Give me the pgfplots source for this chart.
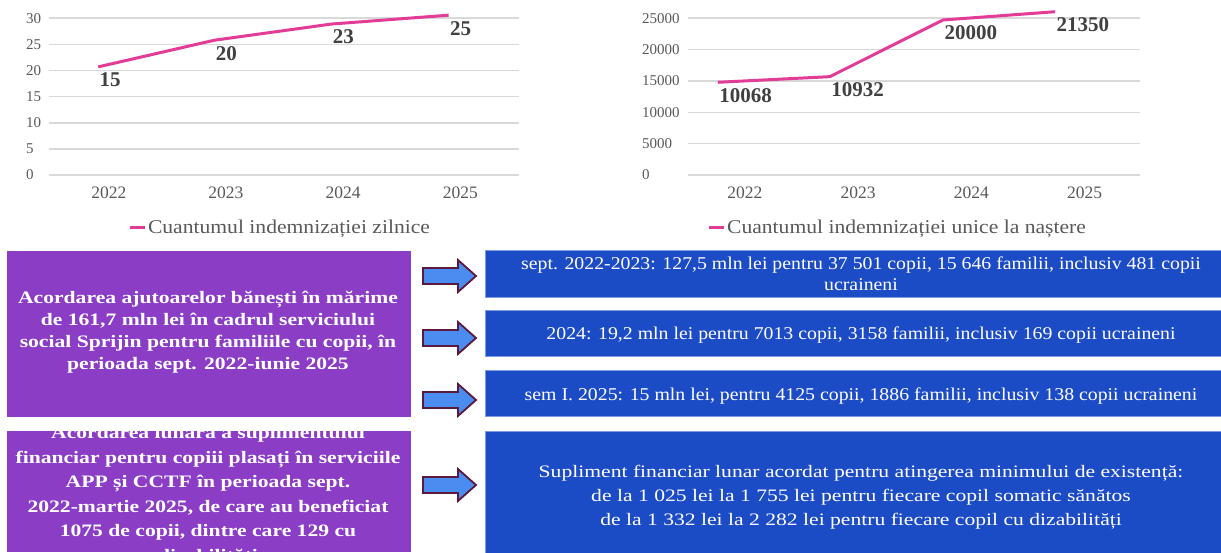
\documentclass[border=0pt]{standalone}
\usepackage{fontspec}
\setmainfont{Liberation Serif}
\usepackage{graphicx}
\usepackage{pgfplots}
\pgfplotsset{compat=1.18}
\definecolor{lpink}{HTML}{E23C96}
\definecolor{gridc}{HTML}{D9D9D9}
\definecolor{tickc}{HTML}{595959}
\definecolor{labc}{HTML}{404040}
\definecolor{purp}{HTML}{8B3DC6}
\definecolor{bbox}{HTML}{1C4BC6}
\definecolor{bedge}{HTML}{7F9BE6}
\definecolor{arrf}{HTML}{4A8CF0}
\definecolor{arre}{HTML}{5B1A3C}
\pgfplotsset{mychart/.style={
  scale only axis, anchor=south west,
  height=156.7pt,
  ymin=0, clip=false,
  scaled y ticks=false,
  axis line style={draw=none},
  tick style={draw=none},
  ymajorgrids, grid style={gridc, line width=1.6pt},
  xtick={0,1,2,3}, xticklabels={2022,2023,2024,2025},
  xticklabel style={anchor=base, yshift=-24pt, font=\fontsize{17.5}{20}\selectfont, text=tickc},
  yticklabel style={anchor=west, font=\fontsize{15}{18}\selectfont, text=tickc},
  /pgf/number format/assume math mode=true,
  legend style={draw=none, fill=none, font=\fontsize{19.5}{22}\selectfont, text=tickc, anchor=center, inner sep=0pt},
  legend image code/.code={\draw[lpink, line width=3pt] (0pt,0pt) -- (15pt,0pt);},
  nodes near coords, point meta=explicit symbolic,
  every node near coord/.append style={anchor=north west, inner sep=0pt, yshift=-4.5pt, font=\fontsize{21}{24}\bfseries\selectfont, text=labc},
}}
\newcommand{\pl}[2]{\node[anchor=base,inner sep=0pt,text=white,font=\fontsize{17.5}{21}\bfseries\selectfont] at (208,552-#1) {\scalebox{1.235}[1]{#2}};}
\newcommand{\bl}[2]{\node[anchor=base,inner sep=0pt,text=white,font=\fontsize{18}{21}\selectfont] at (861,552-#1) {\scalebox{1.1}[1]{#2}};}
\newcommand{\ql}[2]{\node[anchor=base,inner sep=0pt,text=white,font=\fontsize{17.5}{21}\selectfont] at (861,552-#1) {\scalebox{1.235}[1]{#2}};}
\newcommand{\arr}[1]{\draw[fill=arrf, draw=arre, line width=1.8pt, line join=miter] (423,552-#1-8) -- (458,552-#1-8) -- (458,552-#1-16) -- (476,552-#1) -- (458,552-#1+16) -- (458,552-#1+8) -- (423,552-#1+8) -- cycle;}
\begin{document}
\begin{tikzpicture}[x=1pt,y=1pt]
\path[use as bounding box, fill=white] (0,0) rectangle (1221,552);
% ---------- left chart
\begin{axis}[mychart, at={(49pt,377pt)}, width=470pt,
  xmin=-0.51, xmax=3.5, ymax=30,
  ytick={0,5,10,15,20,25,30}, yticklabels={0,5,10,15,20,25,30},
  yticklabel style={xshift=-26.3pt},
  legend style={at={(0.4915,-0.338)}}]
\addplot[lpink, line width=3pt] table[x=x, y=y, meta=label] {
x y label
-0.09 20.7 15
0.9 25.8 20
1.9 28.9 23
2.9 30.6 25
};
\addlegendentry{\scalebox{1.108}[1]{Cuantumul indemnizației zilnice}}
\end{axis}
% ---------- right chart
\begin{axis}[mychart, at={(688pt,377pt)}, width=452pt,
  xmin=-0.503, xmax=3.49, ymax=25000,
  ytick={0,5000,10000,15000,20000,25000}, yticklabels={0,5000,10000,15000,20000,25000},
  yticklabel style={xshift=-49.3pt},
  legend style={at={(0.4635,-0.338)}}]
\addplot[lpink, line width=3pt] table[x=x, y=y, meta=label] {
x y label
-0.24 14790 10068
0.75 15690 10932
1.75 24730 20000
2.74 26050 21350
};
\addlegendentry{\scalebox{1.108}[1]{Cuantumul indemnizației unice la naștere}}
\end{axis}
% ---------- boxes
\fill[purp] (7,135) rectangle (411,301);
\fill[purp] (7,0) rectangle (411,121);
\filldraw[fill=bbox, draw=bedge, line width=1pt] (485,254) rectangle (1226,301);
\filldraw[fill=bbox, draw=bedge, line width=1pt] (485,195) rectangle (1226,241);
\filldraw[fill=bbox, draw=bedge, line width=1pt] (485,135) rectangle (1226,181);
\filldraw[fill=bbox, draw=bedge, line width=1pt] (485,-5) rectangle (1226,121);
\arr{276}
\arr{338}
\arr{400}
\arr{485}
% ---------- purple texts
\pl{304}{Acordarea ajutoarelor bănești în mărime}
\pl{325.7}{de 161,7 mln lei în cadrul serviciului}
\pl{347.4}{social Sprijin pentru familiile cu copii, în}
\pl{369.1}{perioada sept. 2022-iunie 2025}
\begin{scope}
\clip (7,0) rectangle (411,121);
\pl{438.5}{Acordarea lunară a suplimentului}
\pl{463}{financiar pentru copiii plasați în serviciile}
\pl{487.5}{APP și CCTF în perioada sept.}
\pl{512}{2022-martie 2025, de care au beneficiat}
\pl{536.5}{1075 de copii, dintre care 129 cu}
\pl{561}{dizabilități}
\end{scope}
% ---------- blue texts
\bl{270}{sept. 2022-2023: 127,5 mln lei pentru 37 501 copii, 15 646 familii, inclusiv 481 copii}
\bl{291}{ucraineni}
\bl{340}{2024: 19,2 mln lei pentru 7013 copii, 3158 familii, inclusiv 169 copii ucraineni}
\bl{401}{sem I. 2025: 15 mln lei, pentru 4125 copii, 1886 familii, inclusiv 138 copii ucraineni}
\ql{477}{Supliment financiar lunar acordat pentru atingerea minimului de existență:}
\ql{501}{de la 1 025 lei la 1 755 lei pentru fiecare copil somatic sănătos}
\ql{525}{de la 1 332 lei la 2 282 lei pentru fiecare copil cu dizabilități}
\end{tikzpicture}
\end{document}
